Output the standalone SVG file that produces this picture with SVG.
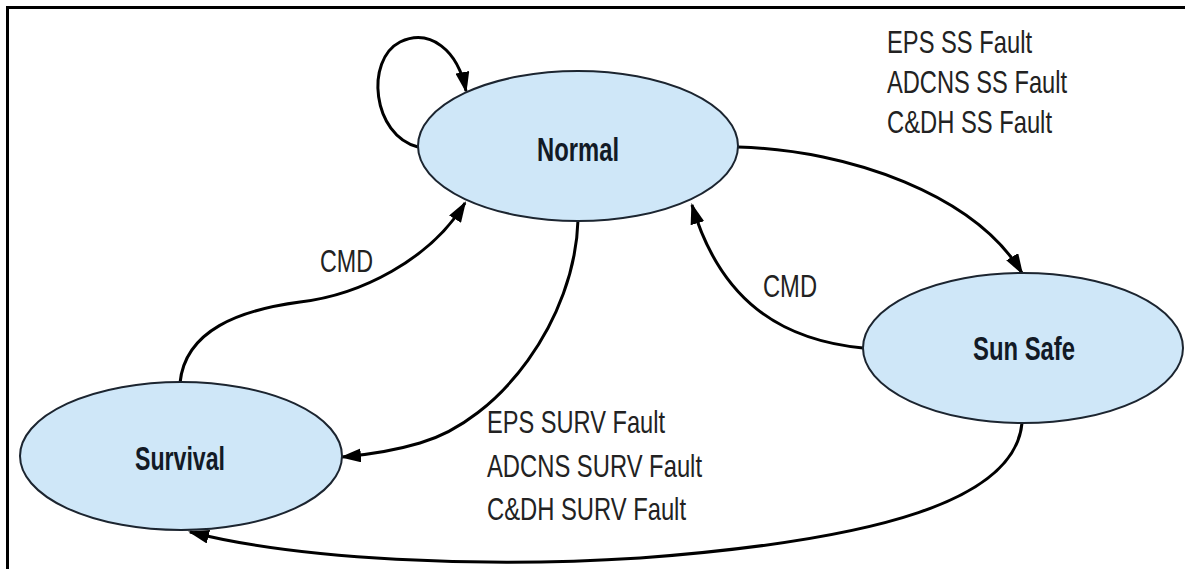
<svg xmlns="http://www.w3.org/2000/svg" width="1185" height="569" viewBox="0 0 1185 569">
<style>
.node{fill:#cfe7f8;stroke:#1c2530;stroke-width:2}
.name{font-family:"Liberation Sans Narrow","Liberation Sans",Arial,sans-serif;font-weight:bold;font-size:33px;fill:#121a26;text-anchor:middle}
.lbl{font-family:"Liberation Sans Narrow","Liberation Sans",Arial,sans-serif;font-size:32px;fill:#222}
.edge{fill:none;stroke:#000;stroke-width:3;marker-end:url(#ah)}
.frame{stroke:#000;stroke-width:3;fill:none}
</style>
<defs>
<marker id="ah" markerWidth="21" markerHeight="14" refX="19" refY="7" orient="auto" markerUnits="userSpaceOnUse">
<path d="M0,0 L21,7 L0,14 z" fill="#000"/>
</marker>
</defs>
<rect width="1185" height="569" fill="#fff"/>
<path class="frame" d="M7.5,569 V7.5 H1185"/>
<g id="connectors">
<path class="edge" d="M418,147 C372,135 365,60 400,42 C430,28 458,50 466,91"/>
<path class="edge" d="M180,383 C185,330 240,310 300,302 C360,295 430,260 465,203"/>
<path class="edge" d="M578,220 C575,320 500,420 420,443 C390,452 365,455 342,457"/>
<path class="edge" d="M738,147 C850,150 975,195 1022,273"/>
<path class="edge" d="M863,348 C780,340 720,300 692,205"/>
<path class="edge" d="M1022,423 C1015,500 880,540 640,558 C480,568 300,560 190,532"/>
<text class="lbl" x="320" y="272" textLength="53" lengthAdjust="spacingAndGlyphs">CMD</text>
<text class="lbl" x="763" y="297" textLength="54" lengthAdjust="spacingAndGlyphs">CMD</text>
<text class="lbl" x="887" y="53" textLength="145" lengthAdjust="spacingAndGlyphs">EPS SS Fault</text>
<text class="lbl" x="887" y="93" textLength="180" lengthAdjust="spacingAndGlyphs">ADCNS SS Fault</text>
<text class="lbl" x="887" y="133" textLength="165" lengthAdjust="spacingAndGlyphs">C&amp;DH SS Fault</text>
<text class="lbl" x="487" y="433" textLength="178" lengthAdjust="spacingAndGlyphs">EPS SURV Fault</text>
<text class="lbl" x="487" y="477" textLength="215" lengthAdjust="spacingAndGlyphs">ADCNS SURV Fault</text>
<text class="lbl" x="487" y="520" textLength="199" lengthAdjust="spacingAndGlyphs">C&amp;DH SURV Fault</text>
</g>
<g id="normal">
<ellipse class="node" cx="578" cy="146" rx="160" ry="75"/>
<text class="name" x="578" y="161" textLength="82" lengthAdjust="spacingAndGlyphs">Normal</text>
</g>
<g id="survival">
<ellipse class="node" cx="181" cy="456" rx="161" ry="74"/>
<text class="name" x="180" y="470" textLength="90" lengthAdjust="spacingAndGlyphs">Survival</text>
</g>
<g id="sunsafe">
<ellipse class="node" cx="1023" cy="348" rx="160" ry="75"/>
<text class="name" x="1024" y="360" textLength="102" lengthAdjust="spacingAndGlyphs">Sun Safe</text>
</g>
</svg>
